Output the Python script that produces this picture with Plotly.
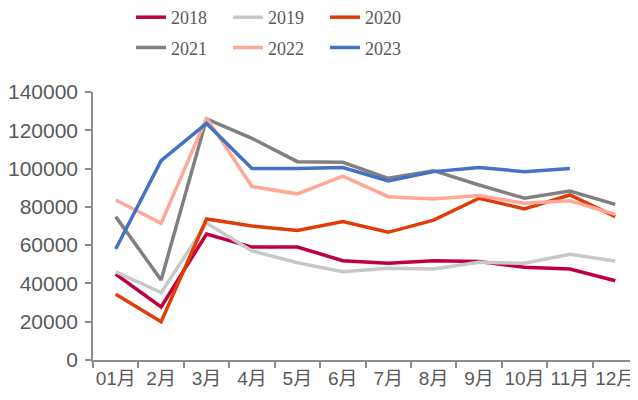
import plotly.graph_objects as go

months = ["01月", "2月", "3月", "4月", "5月", "6月", "7月", "8月", "9月", "10月", "11月", "12月"]
y2018 = [44900, 27700, 65800, 59000, 59000, 51900, 50500, 51900, 51400, 48400, 47500, 41400]
y2019 = [46100, 35200, 71500, 57000, 50800, 46100, 47900, 47500, 51000, 50500, 55200, 51700]
y2020 = [34300, 20000, 73700, 70000, 67600, 72300, 66700, 73100, 84500, 78900, 86200, 74900]
y2021 = [74900, 41800, 126000, 115800, 103600, 103300, 94900, 98900, 91400, 84500, 88300, 81300]
y2022 = [83600, 71400, 126500, 90600, 86800, 96100, 85300, 84100, 85900, 81900, 83200, 76100]
y2023 = [58000, 104100, 123600, 100100, 100100, 100500, 93500, 98400, 100500, 98400, 100100, None]

series = [
    ("2018", y2018, "#C0003A", "legend"),
    ("2019", y2019, "#C8C8C8", "legend"),
    ("2020", y2020, "#E03C08", "legend"),
    ("2021", y2021, "#808080", "legend2"),
    ("2022", y2022, "#FFA898", "legend2"),
    ("2023", y2023, "#4472C4", "legend2"),
]

fig = go.Figure()
for name, vals, color, lg in series:
    fig.add_trace(go.Scatter(x=months, y=vals, name=name, mode="lines",
                             line=dict(color=color, width=3.5), legend=lg))

legend_common = dict(orientation="h", xanchor="left", yanchor="middle",
                     font=dict(family="Liberation Serif, Times New Roman, serif", size=18, color="#595959"),
                     entrywidth=52, entrywidthmode="pixels", bgcolor="rgba(0,0,0,0)",
                     itemclick=False, tracegroupgap=0)

fig.update_layout(
    width=630, height=392,
    margin=dict(l=85, r=0, t=84, b=40, autoexpand=False),
    plot_bgcolor="white", paper_bgcolor="white",
    font=dict(family="Liberation Sans, Arial, Noto Sans CJK SC, sans-serif", size=20, color="#595959"),
    legend=dict(x=0.0697, y=1.278, **legend_common),
    legend2=dict(x=0.0697, y=1.165, **legend_common),
    xaxis=dict(type="category", showline=True, linecolor="#8C8C8C", linewidth=1.5,
               ticks="outside", tickson="boundaries", ticklen=6, tickcolor="#8C8C8C", tickwidth=1.5,
               showgrid=False, tickfont=dict(size=19, color="#595959"), range=[-0.5, 11.5],
               tickangle=0, automargin=False),
    yaxis=dict(range=[0, 140000], dtick=20000, showline=True, linecolor="#8C8C8C", linewidth=1.5,
               ticks="outside", ticklen=6, tickcolor="#8C8C8C", tickwidth=1.5,
               showgrid=False, zeroline=False, tickformat="d", automargin=False,
               tickfont=dict(size=21, color="#595959"), ticklabelstandoff=3),
)

fig.write_html("out.html")
